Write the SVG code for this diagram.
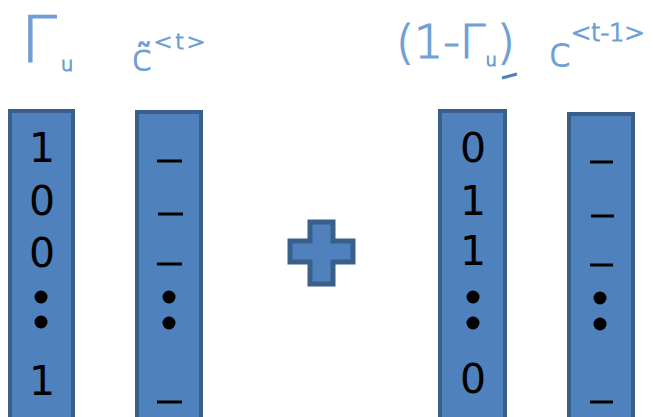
<svg xmlns="http://www.w3.org/2000/svg" width="653" height="417" viewBox="0 0 653 417">
<style>
.vec{fill:#4f81bd;stroke:#3a5f8b;stroke-width:4;}
.plus{fill:#4f81bd;stroke:#3a5f8b;stroke-width:5;stroke-linejoin:miter;}
.num{font-family:"DejaVu Sans",sans-serif;font-size:41px;fill:#000;text-anchor:middle;}
.dash{stroke:#000;stroke-width:3;}
.dot{fill:#000;}
.hand{font-family:"DejaVu Sans",sans-serif;font-weight:200;fill:#6f9fd6;stroke:#6f9fd6;stroke-width:1.2;}
</style>
<rect width="653" height="417" fill="#fff"/>

<g id="label-gamma-u">
<text class="hand" x="21" y="62" font-size="64">Γ<tspan font-size="20" dx="4" dy="9">u</tspan></text>
</g>
<g id="label-c-tilde-t">
<text class="hand" x="132" y="70" font-size="36">c̃<tspan font-size="22" dy="-21" dx="2" letter-spacing="3">&lt;t&gt;</tspan></text>
</g>
<g id="label-one-minus-gamma">
<text class="hand" x="396" y="58" font-size="46">(1-Γ<tspan font-size="18" dy="8">u</tspan><tspan dy="-8">)</tspan></text>
<line x1="502" y1="78" x2="517" y2="74" stroke="#4f81bd" stroke-width="3"/>
</g>
<g id="label-c-t-minus-1">
<text class="hand" x="549" y="66" font-size="40">c<tspan font-size="24" dy="-25">&lt;t-1&gt;</tspan></text>
</g>

<g id="gamma-vector">
<rect class="vec" x="10" y="111" width="63" height="312"/>
<text class="num" x="42" y="162">1</text>
<text class="num" x="42" y="215">0</text>
<text class="num" x="42" y="267">0</text>
<circle class="dot" cx="41" cy="297" r="6.5"/>
<circle class="dot" cx="41" cy="322" r="6.5"/>
<text class="num" x="42" y="395">1</text>
</g>

<g id="c-tilde-vector">
<rect class="vec" x="137" y="112" width="64" height="312"/>
<line class="dash" x1="157" y1="161" x2="182" y2="161"/>
<line class="dash" x1="158" y1="214" x2="183" y2="214"/>
<line class="dash" x1="157" y1="264" x2="182" y2="264"/>
<circle class="dot" cx="169" cy="297" r="6.5"/>
<circle class="dot" cx="169" cy="323" r="6.5"/>
<line class="dash" x1="157" y1="402" x2="182" y2="402"/>
</g>

<g id="plus">
<path class="plus" d="M310,222 H333 V241 H353 V262 H333 V284 H310 V262 H290 V241 H310 Z"/>
</g>

<g id="one-minus-gamma-vector">
<rect class="vec" x="440" y="111" width="65" height="312"/>
<text class="num" x="473" y="162">0</text>
<text class="num" x="473" y="215">1</text>
<text class="num" x="473" y="265">1</text>
<circle class="dot" cx="473" cy="297" r="6.5"/>
<circle class="dot" cx="473" cy="323" r="6.5"/>
<text class="num" x="473" y="393">0</text>
</g>

<g id="c-prev-vector">
<rect class="vec" x="569" y="114" width="64" height="312"/>
<line class="dash" x1="590" y1="162" x2="613" y2="162"/>
<line class="dash" x1="591" y1="216" x2="614" y2="216"/>
<line class="dash" x1="590" y1="265" x2="613" y2="265"/>
<circle class="dot" cx="600" cy="298" r="6.5"/>
<circle class="dot" cx="600" cy="324" r="6.5"/>
<line class="dash" x1="590" y1="402" x2="613" y2="402"/>
</g>
</svg>
